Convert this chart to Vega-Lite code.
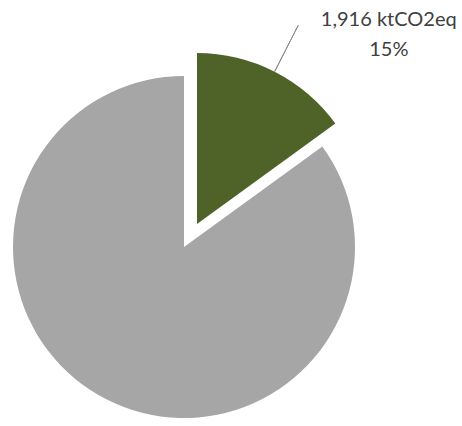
{
  "$schema": "https://vega.github.io/schema/vega-lite/v6.json",
  "width": 368,
  "height": 342,
  "autosize": {"type": "none"},
  "padding": {"left": 0, "top": 76, "right": 94, "bottom": 8},
  "background": "white",
  "view": {"stroke": null},
  "data": {
    "values": [
      {"category": "Selected", "value": 1916, "rank": 1, "label": "1,916 ktCO2eq\n15%"},
      {"category": "Other", "value": 10857, "rank": 2, "label": ""}
    ]
  },
  "encoding": {
    "theta": {"field": "value", "type": "quantitative", "stack": true},
    "order": {"field": "rank", "type": "quantitative"},
    "color": {
      "field": "category",
      "type": "nominal",
      "scale": {"domain": ["Selected", "Other"], "range": ["#4f6228", "#a6a6a6"]},
      "legend": null
    }
  },
  "layer": [
    {
      "mark": {"type": "arc", "outerRadius": 171},
      "encoding": {
        "opacity": {"condition": {"test": "datum.category === 'Other'", "value": 1}, "value": 0}
      }
    },
    {
      "mark": {"type": "arc", "outerRadius": 171, "xOffset": 13, "yOffset": -23},
      "encoding": {
        "opacity": {"condition": {"test": "datum.category === 'Selected'", "value": 1}, "value": 0}
      }
    },
    {
      "mark": {
        "type": "arc",
        "innerRadius": 171,
        "outerRadius": 223,
        "padAngle": 1.3,
        "xOffset": 13,
        "yOffset": -23,
        "fill": null,
        "filled": false,
        "stroke": "#8c8c8c",
        "strokeWidth": 1
      },
      "encoding": {
        "color": {"value": "#8c8c8c"},
        "opacity": {"condition": {"test": "datum.category === 'Selected'", "value": 1}, "value": 0}
      }
    },
    {
      "mark": {
        "type": "text",
        "radius": 222,
        "xOffset": 13,
        "yOffset": -23,
        "dx": 91,
        "dy": -6,
        "align": "center",
        "baseline": "middle",
        "lineBreak": "\n",
        "lineHeight": 30,
        "font": "Lato",
        "fontSize": 20,
        "fill": "#404040"
      },
      "encoding": {
        "text": {"field": "label", "type": "nominal"},
        "color": {"value": "#404040"}
      }
    }
  ]
}
